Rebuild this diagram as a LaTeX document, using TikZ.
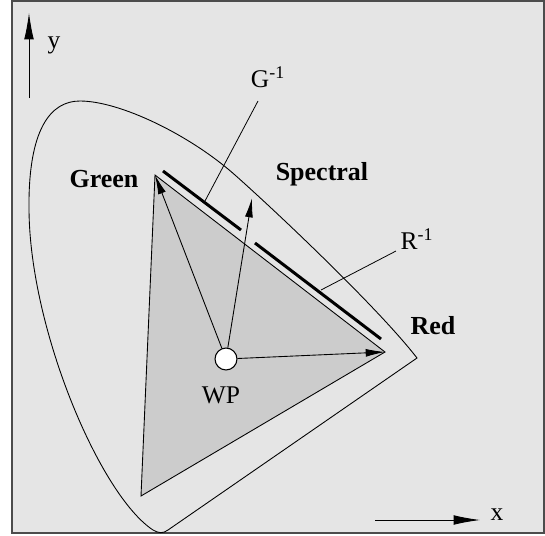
\documentclass[tikz,border=0pt]{standalone}
\usepackage{fontspec}
\setmainfont{Liberation Serif}
\usetikzlibrary{arrows.meta}
\definecolor{panel}{gray}{0.9}
\definecolor{gamut}{gray}{0.8}

\begin{document}
\begin{tikzpicture}[x=0.02cm, y=-0.02cm,
  lbl/.style={font=\fontsize{14.5}{16}\selectfont},
  boldlbl/.style={font=\fontsize{14.8}{16}\selectfont\bfseries},
  ray/.style={-{Latex[length=11pt,width=4.5pt]}, line width=0.5pt},
  axis/.style={-{Latex[length=15pt,width=5.5pt]}, line width=0.5pt},
  edgebar/.style={line width=1.7pt},
  leader/.style={line width=0.45pt}]
\useasboundingbox (0,0) rectangle (545,535);

% Panel
\fill[panel] (12,1) rectangle (544,533);
\draw[black!70, line width=0.8pt] (12,1) rectangle (544,533);

% Axes
\coordinate (y0) at (29,98);
\coordinate (y1) at (29,13);
\draw[axis] (y0) -- (y1);
\node[lbl] (ylab) at (54,45) {y};
\coordinate (x0) at (375,520);
\coordinate (x1) at (480,520);
\draw[axis] (x0) -- (x1);
\node[lbl] (xlab) at (497,515) {x};

% Spectral locus
\draw[line width=0.5pt] (153,530)
  .. controls (100,495) and (30,330) .. (29,210)
  .. controls (28,130) and (50,101) .. (80,101)
  .. controls (120,101) and (190,135) .. (235,175)
  .. controls (280,215) and (380,310) .. (417,358)
  -- (168,530) .. controls (163,534) and (158,533) .. cycle;

% Gamut triangle
\coordinate (G) at (155,175);
\coordinate (R) at (385,352);
\coordinate (B) at (141,496);
\filldraw[fill=gamut, line width=0.5pt] (G) -- (R) -- (B) -- cycle;

% Inverse edges (thick bars)
\coordinate (g1) at (163,171);
\coordinate (g2) at (241,230);
\coordinate (r1) at (255,243);
\coordinate (r2) at (381,339);
\draw[edgebar] (g1) -- (g2);
\draw[edgebar] (r1) -- (r2);

% White point and rays
\node[circle, draw, fill=white, line width=0.6pt, minimum size=12.5pt, inner sep=0pt] (wp) at (226,359) {};
\coordinate (S) at (252,198);
\draw[ray] (wp) -- (G);
\draw[ray] (wp) -- (S);
\draw[ray] (wp) -- (R);

% Labels
\node[boldlbl] (green) at (104,179) {Green};
\node[boldlbl] (spectral) at (322,174) {Spectral};
\node[boldlbl] (red) at (433,326) {Red};
\node[lbl] (wplab) at (221,395) {WP};

\node[lbl] (ginv) at (268,77) {G\textsuperscript{-1}};
\coordinate (gtop) at (258,101);
\coordinate (gfoot) at (205,201);
\draw[leader] (gtop) -- (gfoot);

\node[lbl] (rinv) at (417,239) {R\textsuperscript{-1}};
\coordinate (rtop) at (396,251);
\coordinate (rfoot) at (321,290);
\draw[leader] (rtop) -- (rfoot);
\end{tikzpicture}
\end{document}
